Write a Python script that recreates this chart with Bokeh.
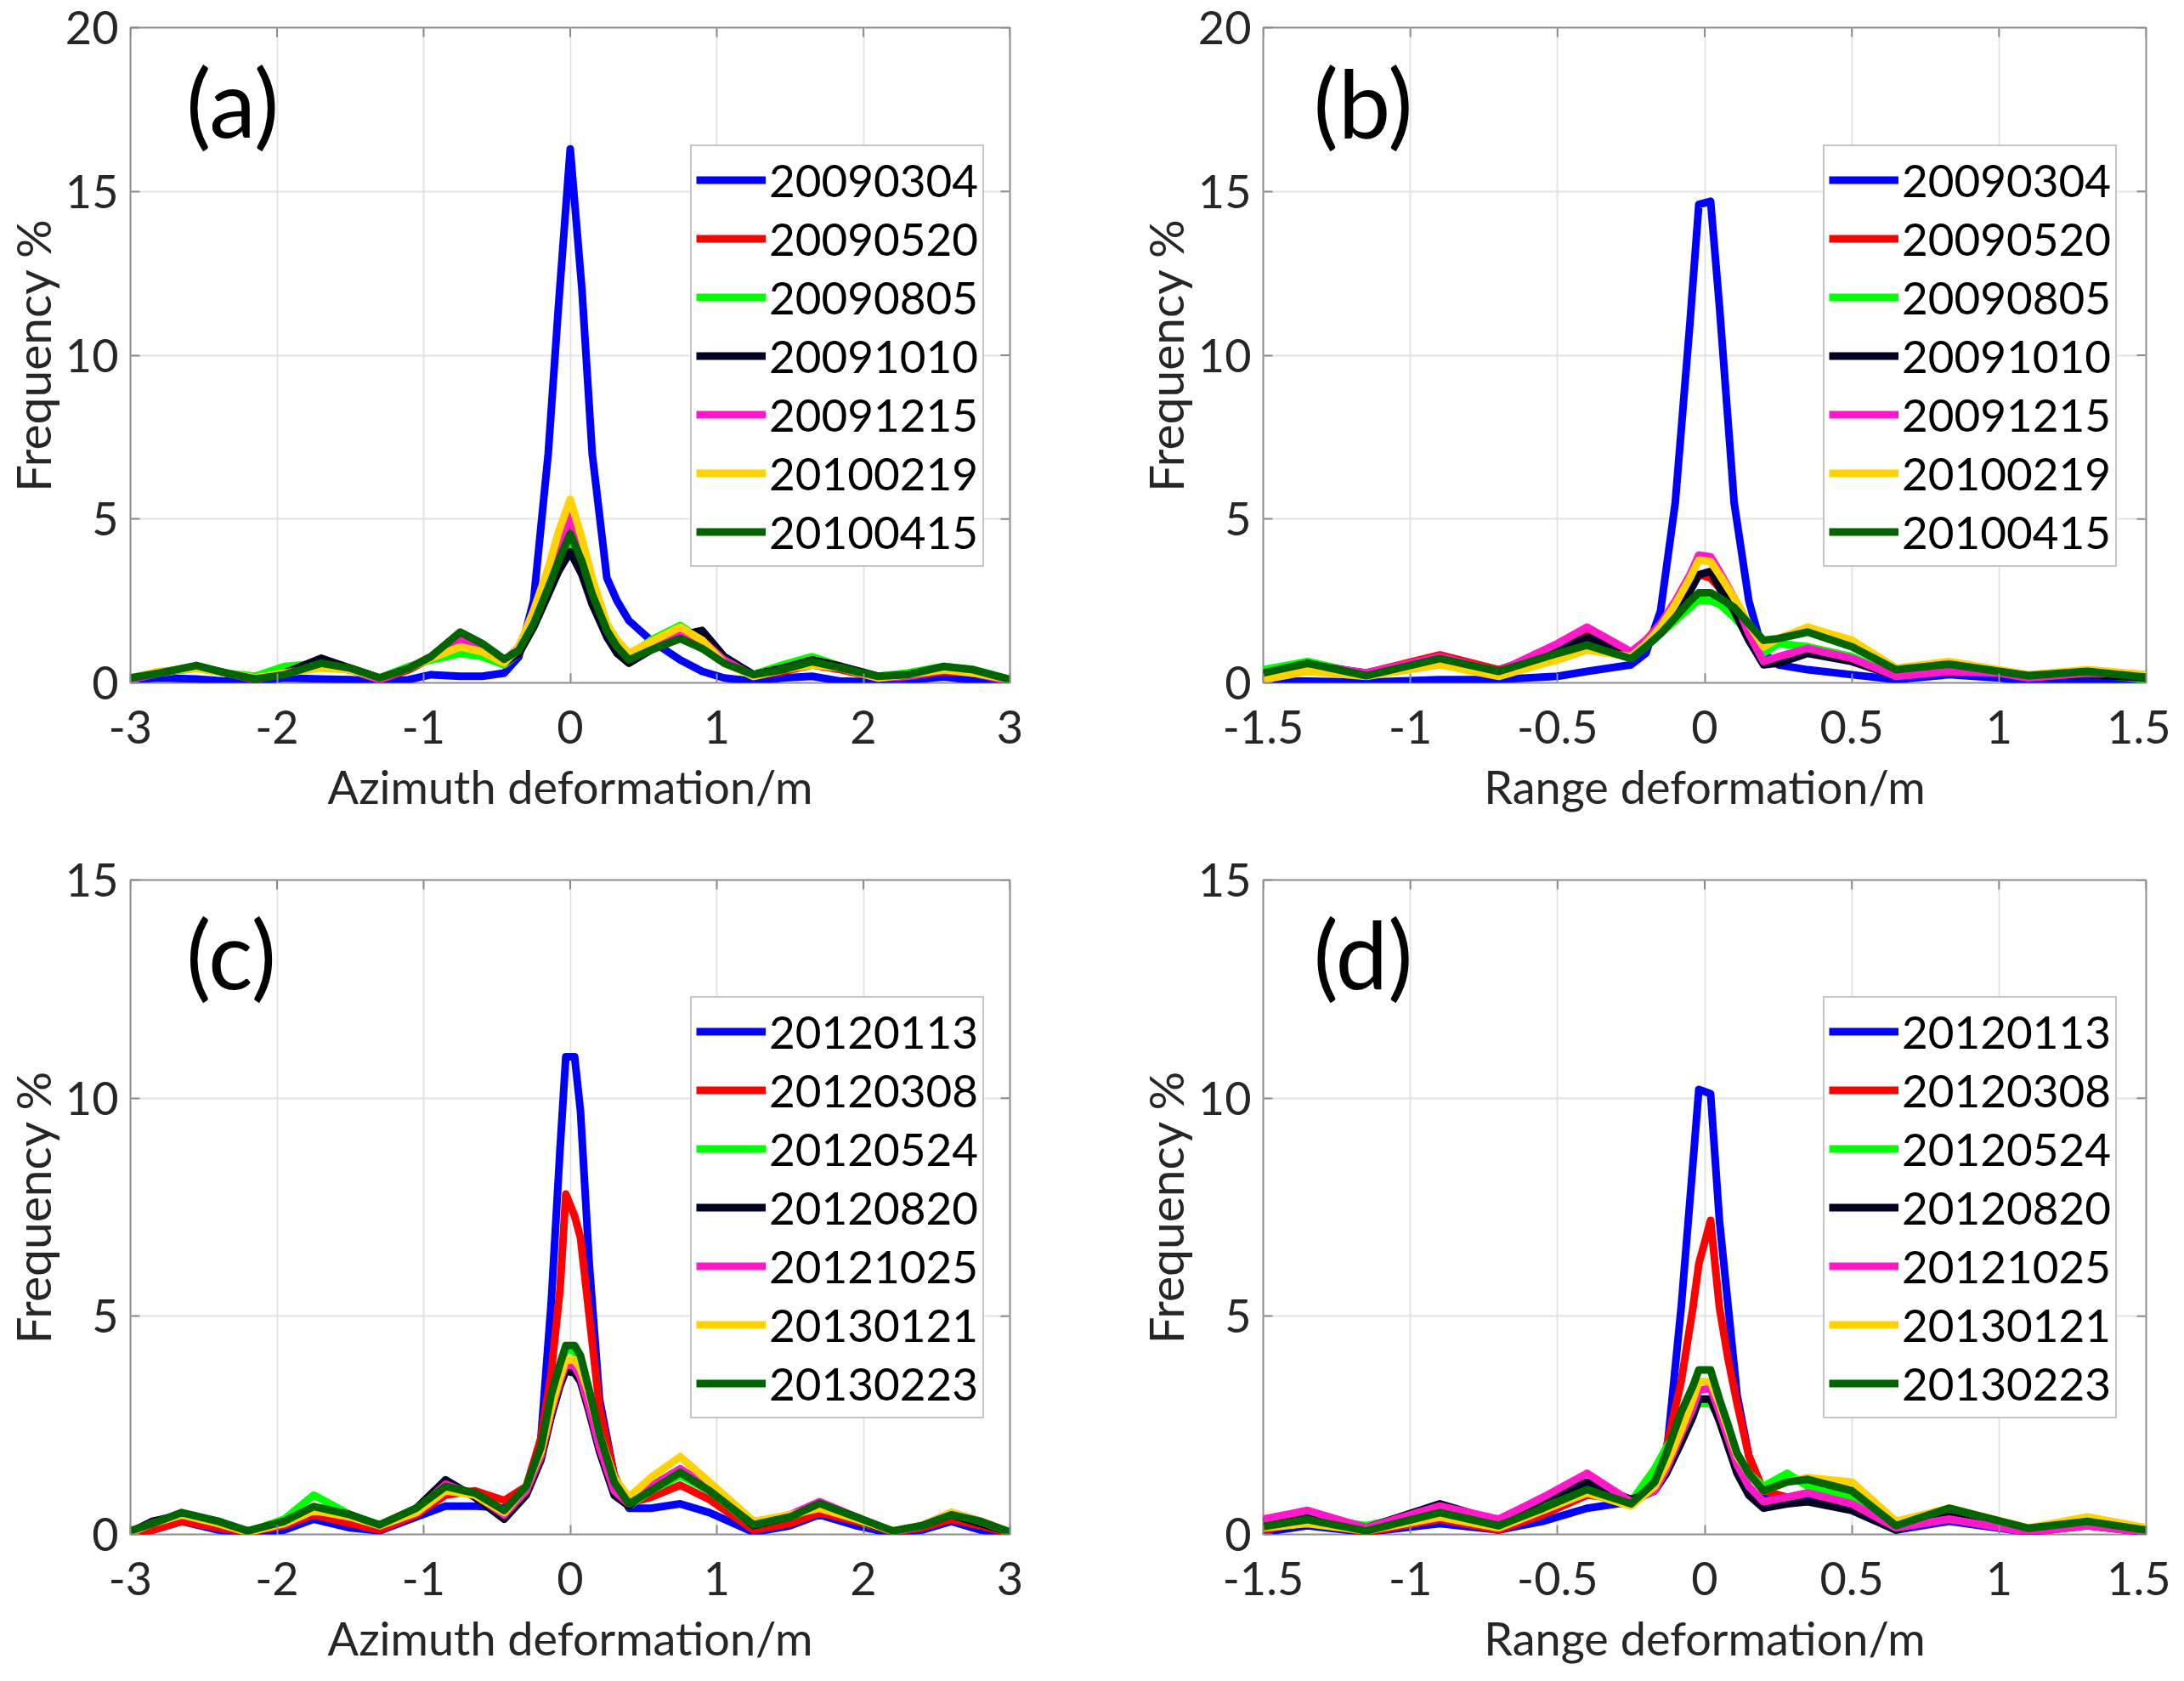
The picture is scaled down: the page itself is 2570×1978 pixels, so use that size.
from bokeh.plotting import figure
from bokeh.models import Range1d, FixedTicker, Legend, LegendItem, CustomJSTickFormatter, Label
from bokeh.layouts import column, row
from bokeh.embed import file_html
from bokeh.resources import INLINE

FONT = "Lato"
COLORS = ["#0000ff", "#ff0000", "#00ff00", "#000022", "#ff19c8", "#ffd200", "#006400"]

# ---------------- Panel (a): Azimuth, 2009-2010 ----------------
labels_ab = ["20090304", "20090520", "20090805", "20091010", "20091215", "20100219", "20100415"]
xa = [-3.0, -2.8, -2.55, -2.35, -2.15, -1.95, -1.7, -1.5, -1.3, -1.1, -0.95, -0.75, -0.6, -0.45,
      -0.35, -0.25, -0.15, -0.08, 0.0, 0.08, 0.15, 0.25, 0.32, 0.4, 0.55, 0.75, 0.9, 1.05, 1.25,
      1.45, 1.65, 1.85, 2.1, 2.3, 2.55, 2.75, 3.0]
a_20090304 = [0.1, 0.15, 0.12, 0.05, 0.05, 0.15, 0.12, 0.1, 0.03, 0.1, 0.25, 0.2, 0.2, 0.3,
              0.8, 2.5, 7.0, 11.5, 16.3, 12.0, 7.0, 3.2, 2.5, 1.9, 1.3, 0.7, 0.35, 0.15, 0.05,
              0.15, 0.2, 0.05, 0.03, 0.08, 0.18, 0.08, 0.05]
a_20090520 = [0.1, 0.3, 0.5, 0.3, 0.1, 0.3, 0.5, 0.4, 0.1, 0.4, 0.75, 1.2, 1.0, 0.65,
              1.1, 2.1, 3.3, 4.1, 4.9, 3.9, 2.9, 1.7, 1.2, 0.8, 1.15, 1.6, 1.2, 0.65, 0.2,
              0.35, 0.55, 0.4, 0.15, 0.2, 0.35, 0.3, 0.05]
a_20090805 = [0.15, 0.3, 0.45, 0.3, 0.2, 0.5, 0.6, 0.45, 0.15, 0.5, 0.7, 0.9, 0.8, 0.55,
              0.9, 1.7, 2.7, 3.5, 4.35, 3.5, 2.5, 1.5, 1.1, 0.8, 1.3, 1.75, 1.3, 0.7, 0.25,
              0.55, 0.8, 0.5, 0.2, 0.3, 0.5, 0.4, 0.1]
a_20091010 = [0.1, 0.3, 0.5, 0.3, 0.1, 0.3, 0.75, 0.45, 0.15, 0.45, 0.8, 1.5, 1.1, 0.6,
              0.9, 1.7, 2.7, 3.4, 4.0, 3.3, 2.4, 1.4, 0.9, 0.6, 1.0, 1.45, 1.6, 0.8, 0.25,
              0.45, 0.7, 0.5, 0.2, 0.2, 0.45, 0.35, 0.05]
a_20091215 = [0.1, 0.3, 0.5, 0.3, 0.1, 0.3, 0.5, 0.4, 0.1, 0.45, 0.8, 1.3, 1.05, 0.65,
              1.0, 2.0, 3.3, 4.2, 5.1, 4.0, 2.9, 1.6, 1.1, 0.8, 1.1, 1.55, 1.3, 0.7, 0.2,
              0.4, 0.6, 0.45, 0.15, 0.2, 0.4, 0.3, 0.05]
a_20100219 = [0.15, 0.35, 0.45, 0.3, 0.15, 0.3, 0.45, 0.4, 0.15, 0.45, 0.75, 1.1, 0.95, 0.6,
              1.1, 2.2, 3.5, 4.6, 5.6, 4.4, 3.2, 1.8, 1.3, 0.9, 1.25, 1.7, 1.3, 0.6, 0.2,
              0.4, 0.55, 0.45, 0.15, 0.25, 0.4, 0.3, 0.1]
a_20100415 = [0.15, 0.3, 0.53, 0.3, 0.12, 0.25, 0.6, 0.45, 0.15, 0.45, 0.8, 1.55, 1.2, 0.72,
              1.0, 1.8, 2.9, 3.7, 4.55, 3.7, 2.7, 1.6, 1.1, 0.7, 1.0, 1.35, 1.05, 0.6, 0.25,
              0.4, 0.65, 0.45, 0.2, 0.25, 0.5, 0.4, 0.1]

# ---------------- Panel (b): Range, 2009-2010 ----------------
xb = [-1.5, -1.35, -1.15, -0.9, -0.7, -0.5, -0.4, -0.25, -0.2, -0.15, -0.1, -0.05, -0.02,
      0.02, 0.05, 0.1, 0.15, 0.2, 0.25, 0.35, 0.5, 0.65, 0.83, 1.0, 1.1, 1.3, 1.5]
b_20090304 = [0.05, 0.05, 0.02, 0.1, 0.1, 0.2, 0.35, 0.55, 0.9, 2.2, 5.5, 11.0, 14.6,
              14.7, 11.5, 5.5, 2.5, 0.9, 0.55, 0.4, 0.25, 0.1, 0.25, 0.15, 0.05, 0.1, 0.05]
b_20090520 = [0.2, 0.5, 0.3, 0.85, 0.4, 1.0, 1.5, 0.9, 1.3, 1.8, 2.3, 2.9, 3.3,
              3.2, 2.9, 2.3, 1.4, 0.6, 0.75, 0.95, 0.7, 0.2, 0.35, 0.3, 0.15, 0.3, 0.2]
b_20090805 = [0.4, 0.65, 0.25, 0.75, 0.35, 0.9, 1.25, 0.75, 1.1, 1.5, 1.9, 2.3, 2.55,
              2.5, 2.4, 2.0, 1.5, 0.9, 1.2, 1.1, 0.8, 0.2, 0.55, 0.3, 0.2, 0.3, 0.1]
b_20091010 = [0.25, 0.55, 0.3, 0.7, 0.35, 1.0, 1.4, 0.85, 1.2, 1.6, 2.2, 2.8, 3.3,
              3.4, 2.9, 2.2, 1.3, 0.55, 0.6, 0.9, 0.65, 0.2, 0.4, 0.3, 0.15, 0.25, 0.15]
b_20091215 = [0.25, 0.55, 0.3, 0.8, 0.35, 1.2, 1.7, 0.95, 1.3, 1.8, 2.5, 3.3, 3.9,
              3.85, 3.4, 2.6, 1.5, 0.65, 0.8, 1.05, 0.75, 0.2, 0.35, 0.3, 0.15, 0.3, 0.25]
b_20100219 = [0.1, 0.35, 0.2, 0.55, 0.2, 0.7, 1.0, 0.8, 1.2, 1.7, 2.4, 3.2, 3.75,
              3.7, 3.3, 2.6, 1.8, 1.1, 1.35, 1.7, 1.3, 0.45, 0.65, 0.4, 0.25, 0.4, 0.25]
b_20100415 = [0.3, 0.6, 0.22, 0.74, 0.35, 0.9, 1.15, 0.74, 1.1, 1.5, 2.0, 2.5, 2.75,
              2.75, 2.6, 2.3, 1.8, 1.3, 1.35, 1.55, 1.1, 0.4, 0.57, 0.35, 0.22, 0.35, 0.17]

# ---------------- Panel (c): Azimuth, 2012-2013 ----------------
labels_cd = ["20120113", "20120308", "20120524", "20120820", "20121025", "20130121", "20130223"]
xc = [-3.0, -2.85, -2.65, -2.4, -2.2, -1.95, -1.75, -1.5, -1.3, -1.05, -0.85, -0.65, -0.45,
      -0.3, -0.2, -0.13, -0.07, -0.03, 0.03, 0.07, 0.13, 0.2, 0.3, 0.4, 0.55, 0.75, 0.95,
      1.25, 1.5, 1.7, 1.95, 2.2, 2.4, 2.6, 2.8, 3.0]
c_20120113 = [0.02, 0.1, 0.3, 0.1, 0.02, 0.1, 0.35, 0.15, 0.08, 0.4, 0.65, 0.65, 0.6,
              0.95, 2.2, 5.3, 8.8, 10.95, 10.95, 9.7, 6.2, 3.1, 1.35, 0.6, 0.6, 0.7, 0.5,
              0.05, 0.2, 0.45, 0.2, 0.02, 0.1, 0.3, 0.1, 0.0]
c_20120308 = [0.02, 0.1, 0.3, 0.15, 0.05, 0.2, 0.45, 0.25, 0.1, 0.45, 0.9, 1.0, 0.78,
              1.1, 2.2, 3.7, 5.6, 7.8, 7.3, 6.8, 5.0, 2.9, 1.35, 0.72, 0.85, 1.13, 0.8,
              0.1, 0.25, 0.5, 0.3, 0.05, 0.15, 0.35, 0.2, 0.02]
c_20120524 = [0.05, 0.25, 0.45, 0.25, 0.05, 0.35, 0.9, 0.45, 0.2, 0.55, 1.05, 0.9, 0.5,
              1.1, 1.9, 3.0, 3.8, 4.25, 4.2, 3.9, 3.1, 2.2, 1.1, 0.65, 1.0, 1.35, 1.0,
              0.2, 0.4, 0.65, 0.35, 0.05, 0.2, 0.45, 0.3, 0.05]
c_20120820 = [0.05, 0.3, 0.45, 0.3, 0.05, 0.3, 0.6, 0.45, 0.2, 0.6, 1.25, 0.85, 0.35,
              0.9, 1.7, 2.7, 3.4, 3.75, 3.7, 3.5, 2.8, 1.9, 0.9, 0.65, 1.1, 1.5, 1.05,
              0.2, 0.4, 0.7, 0.35, 0.05, 0.2, 0.45, 0.25, 0.05]
c_20121025 = [0.05, 0.25, 0.45, 0.25, 0.05, 0.25, 0.55, 0.4, 0.2, 0.55, 1.15, 0.9, 0.45,
              1.0, 1.8, 2.8, 3.5, 3.9, 3.85, 3.6, 2.9, 2.0, 1.0, 0.7, 1.1, 1.5, 1.1,
              0.25, 0.45, 0.75, 0.4, 0.05, 0.2, 0.5, 0.3, 0.05]
c_20130121 = [0.05, 0.25, 0.45, 0.25, 0.05, 0.25, 0.55, 0.4, 0.2, 0.5, 1.0, 0.9, 0.5,
              1.1, 1.9, 2.9, 3.6, 4.0, 4.0, 3.8, 3.2, 2.3, 1.3, 0.85, 1.3, 1.78, 1.2,
              0.3, 0.45, 0.6, 0.35, 0.08, 0.2, 0.5, 0.3, 0.05]
c_20130223 = [0.08, 0.25, 0.5, 0.3, 0.08, 0.3, 0.64, 0.45, 0.22, 0.6, 1.1, 0.95, 0.55,
              1.1, 2.0, 3.2, 3.9, 4.33, 4.33, 4.1, 3.3, 2.3, 1.2, 0.7, 1.0, 1.42, 1.0,
              0.22, 0.4, 0.71, 0.4, 0.08, 0.2, 0.45, 0.3, 0.05]

# ---------------- Panel (d): Range, 2012-2013 ----------------
xd = [-1.5, -1.35, -1.15, -0.9, -0.7, -0.55, -0.4, -0.25, -0.17, -0.13, -0.08, -0.04, -0.02,
      0.02, 0.05, 0.08, 0.11, 0.15, 0.2, 0.28, 0.35, 0.5, 0.65, 0.83, 1.1, 1.3, 1.5]
d_20120113 = [0.05, 0.2, 0.05, 0.25, 0.1, 0.3, 0.6, 0.75, 1.0, 1.8, 5.2, 8.5, 10.2,
              10.1, 7.2, 5.2, 3.2, 1.8, 0.95, 0.75, 0.85, 0.6, 0.1, 0.3, 0.05, 0.25, 0.05]
d_20120308 = [0.1, 0.3, 0.05, 0.35, 0.1, 0.45, 0.9, 0.8, 1.2, 2.0, 3.5, 5.2, 6.2,
              7.2, 5.2, 4.0, 3.0, 1.8, 1.0, 0.85, 0.95, 0.7, 0.15, 0.35, 0.1, 0.25, 0.05]
d_20120524 = [0.3, 0.4, 0.2, 0.55, 0.35, 0.7, 1.1, 0.75, 1.5, 2.0, 2.5, 2.8, 3.0,
              3.0, 2.7, 2.2, 1.8, 1.4, 1.1, 1.4, 1.1, 0.85, 0.1, 0.55, 0.1, 0.35, 0.1]
d_20120820 = [0.3, 0.5, 0.15, 0.7, 0.3, 0.8, 1.2, 0.8, 1.0, 1.4, 2.1, 2.7, 3.1,
              3.1, 2.6, 2.0, 1.4, 0.9, 0.6, 0.7, 0.75, 0.55, 0.1, 0.45, 0.05, 0.2, 0.05]
d_20121025 = [0.35, 0.55, 0.15, 0.65, 0.35, 0.85, 1.4, 0.75, 1.0, 1.5, 2.3, 2.9, 3.3,
              3.35, 2.8, 2.2, 1.6, 1.1, 0.75, 0.85, 0.95, 0.7, 0.15, 0.35, 0.05, 0.2, 0.05]
d_20130121 = [0.15, 0.25, 0.08, 0.4, 0.15, 0.55, 0.95, 0.65, 1.1, 1.6, 2.4, 3.1, 3.5,
              3.5, 3.0, 2.4, 1.8, 1.4, 1.0, 1.2, 1.3, 1.2, 0.3, 0.6, 0.15, 0.4, 0.15]
d_20130223 = [0.18, 0.34, 0.08, 0.5, 0.2, 0.6, 1.03, 0.7, 1.2, 1.86, 2.8, 3.4, 3.77,
              3.77, 3.1, 2.5, 1.86, 1.4, 1.0, 1.2, 1.26, 1.0, 0.2, 0.6, 0.14, 0.3, 0.1]

ticks_az = [-3, -2, -1, 0, 1, 2, 3]
ticks_rg = [-1.5, -1, -0.5, 0, 0.5, 1, 1.5]
yticks_top = [0, 5, 10, 15, 20]
yticks_bot = [0, 5, 10, 15]

TXT = "#262626"
BOX = "#8c8c8c"


def panel(xs, series, labels, xr, yr, xticks, yticks, xlabel, letter, letter_pos,
          width, height, bl, br, bt, bb):
    p = figure(width=width, height=height, output_backend="svg", toolbar_location=None,
               x_range=Range1d(*xr), y_range=Range1d(*yr),
               min_border_left=bl, min_border_right=br, min_border_top=bt, min_border_bottom=bb)
    p.background_fill_color = "white"
    p.border_fill_color = "white"
    p.outline_line_color = BOX
    p.outline_line_width = 2
    fmt = CustomJSTickFormatter(code="return tick.toString();")
    for ax in p.xaxis:
        ax.ticker = FixedTicker(ticks=xticks)
        ax.formatter = fmt
        ax.axis_label = xlabel
        ax.axis_label_text_font_size = "54px"
    for ax in p.yaxis:
        ax.ticker = FixedTicker(ticks=yticks)
        ax.formatter = fmt
        ax.axis_label = "Frequency %"
        ax.axis_label_text_font_size = "57px"
    for ax in p.xaxis + p.yaxis:
        ax.axis_line_color = None
        ax.major_tick_in = 11
        ax.major_tick_out = 0
        ax.minor_tick_line_color = None
        ax.major_tick_line_color = BOX
        ax.major_tick_line_width = 2
        ax.major_label_text_font = FONT
        ax.major_label_text_font_size = "54px"
        ax.major_label_text_color = TXT
        ax.axis_label_text_font = FONT
        ax.axis_label_text_font_style = "normal"
        ax.axis_label_text_color = TXT
    p.xaxis.major_label_standoff = 32
    p.xaxis.axis_label_standoff = 15
    p.yaxis.major_label_standoff = 14
    p.yaxis.axis_label_standoff = 2
    p.xgrid.ticker = FixedTicker(ticks=xticks)
    p.ygrid.ticker = FixedTicker(ticks=yticks)
    for g in (p.xgrid, p.ygrid):
        g.grid_line_color = "#e3e3e3"
        g.grid_line_width = 2

    items = []
    for ys, lab, col in zip(series, labels, COLORS):
        r = p.line(xs, ys, line_color=col, line_width=9, line_join="round")
        items.append(LegendItem(label=lab, renderers=[r]))

    # mirrored inward ticks on the top and right edges of the box
    p.ray(x=xticks, y=[yr[1]] * len(xticks), length=11, length_units="screen",
          angle=-90, angle_units="deg", line_color=BOX, line_width=2)
    p.ray(x=[xr[1]] * len(yticks), y=yticks, length=11, length_units="screen",
          angle=180, angle_units="deg", line_color=BOX, line_width=2)

    leg = Legend(items=items, location=(659, 136))
    leg.label_text_font = FONT
    leg.label_text_font_size = "53px"
    leg.label_text_color = "black"
    leg.glyph_width = 82
    leg.glyph_height = 69
    leg.label_height = 69
    leg.label_standoff = 4
    leg.spacing = 0
    leg.padding = 5
    leg.margin = 0
    leg.border_line_color = BOX
    leg.border_line_width = 2
    leg.background_fill_color = "white"
    leg.background_fill_alpha = 1.0
    p.add_layout(leg)

    p.add_layout(Label(x=letter_pos[0], y=letter_pos[1], text=letter, text_font=FONT,
                       text_font_size="110px", text_color="black",
                       text_align="left", text_baseline="middle"))
    return p


pa = panel(xa, [a_20090304, a_20090520, a_20090805, a_20091010, a_20091215, a_20100219, a_20100415],
           labels_ab, (-3, 3), (0, 20), ticks_az, yticks_top, "Azimuth deformation/m", "(a)", (-2.62, 17.75),
           1322, 982, 153, 134, 32, 179)
pb = panel(xb, [b_20090304, b_20090520, b_20090805, b_20091010, b_20091215, b_20100219, b_20100415],
           labels_ab, (-1.5, 1.5), (0, 20), ticks_rg, yticks_top, "Range deformation/m", "(b)", (-1.33, 17.75),
           1232, 982, 164, 29, 32, 179)
pc = panel(xc, [c_20120113, c_20120308, c_20120524, c_20120820, c_20121025, c_20130121, c_20130223],
           labels_cd, (-3, 3), (0, 15), ticks_az, yticks_bot, "Azimuth deformation/m", "(c)", (-2.62, 13.34),
           1322, 980, 153, 134, 53, 154)
pd_ = panel(xd, [d_20120113, d_20120308, d_20120524, d_20120820, d_20121025, d_20130121, d_20130223],
            labels_cd, (-1.5, 1.5), (0, 15), ticks_rg, yticks_bot, "Range deformation/m", "(d)", (-1.33, 13.34),
            1232, 980, 164, 29, 53, 154)

layout = column(row(pa, pb), row(pc, pd_))
open("out.html", "w").write(file_html(layout, INLINE))
